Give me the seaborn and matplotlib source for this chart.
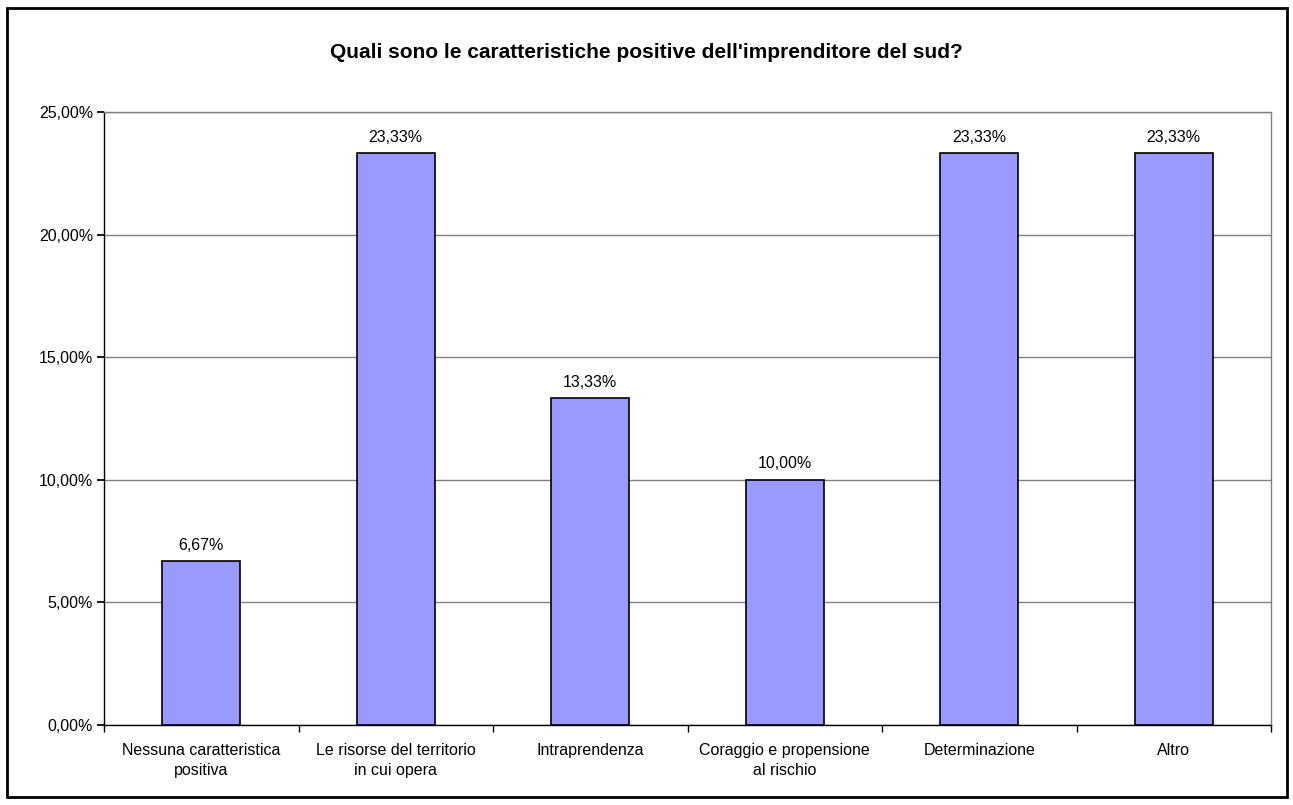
import matplotlib
matplotlib.use("Agg")
import matplotlib.pyplot as plt
import seaborn as sns
import pandas as pd
from matplotlib.patches import Rectangle

categories = ["Nessuna caratteristica\npositiva", "Le risorse del territorio\nin cui opera",
              "Intraprendenza", "Coraggio e propensione\nal rischio", "Determinazione", "Altro"]
values = [6.67, 23.33, 13.33, 10.00, 23.33, 23.33]
yticks = [0, 5, 10, 15, 20, 25]
title = "Quali sono le caratteristiche positive dell'imprenditore del sud?"

sns.set_theme(style="white")
plt.rcParams['font.family'] = ['Liberation Sans', 'DejaVu Sans']
plt.rcParams['text.color'] = 'black'
plt.rcParams['xtick.color'] = 'black'
plt.rcParams['ytick.color'] = 'black'

df = pd.DataFrame({"cat": categories, "val": values})
fig = plt.figure(figsize=(12.93, 8.05), dpi=100)
ax = fig.add_axes([104/1293, 1-725/805, (1271-104)/1293, (725-112)/805])

sns.barplot(data=df, x="cat", y="val", color="#9999FF", saturation=1, width=0.4,
            edgecolor="black", linewidth=1.2, ax=ax, zorder=3)

ax.set_ylim(0, 25)
ax.set_xlim(-0.5, len(categories) - 0.5)
ax.set_yticks(yticks)
ax.set_yticklabels([f"{t:.2f}%".replace(".", ",") for t in yticks], fontsize=11.5)
ax.set_xticks(range(len(categories)))
ax.set_xticklabels(categories, fontsize=11.5, linespacing=1.45)
ax.tick_params(axis="x", length=0, pad=13)
ax.tick_params(axis="y", length=5, direction="out", left=True, color="black", pad=3)
ax.set_xticks([i - 0.5 for i in range(len(categories) + 1)], minor=True)
ax.tick_params(axis="x", which="minor", length=5, direction="out", bottom=True, color="black")
ax.set_xlabel("")
ax.set_ylabel("")

ax.yaxis.grid(True, color="#808080", linewidth=1, zorder=0)
ax.set_axisbelow(True)
for s in ["top", "right"]:
    ax.spines[s].set_color("#808080")
    ax.spines[s].set_linewidth(1)
for s in ["left", "bottom"]:
    ax.spines[s].set_color("black")
    ax.spines[s].set_linewidth(1)

for i, v in enumerate(values):
    ax.annotate(f"{v:.2f}%".replace(".", ","), (i, v), xytext=(0, 6), textcoords="offset points",
                ha="center", va="bottom", fontsize=11.5, color="black")

fig.text(0.5, 1-53/805, title, ha="center", va="center", fontsize=15, fontweight="bold", color="black")
fig.patches.append(Rectangle((7/1293, 1-797/805), (1287-7)/1293, (797-8)/805,
                             transform=fig.transFigure, fill=False, edgecolor="black", linewidth=2))

fig.savefig("out.png", dpi=100)
